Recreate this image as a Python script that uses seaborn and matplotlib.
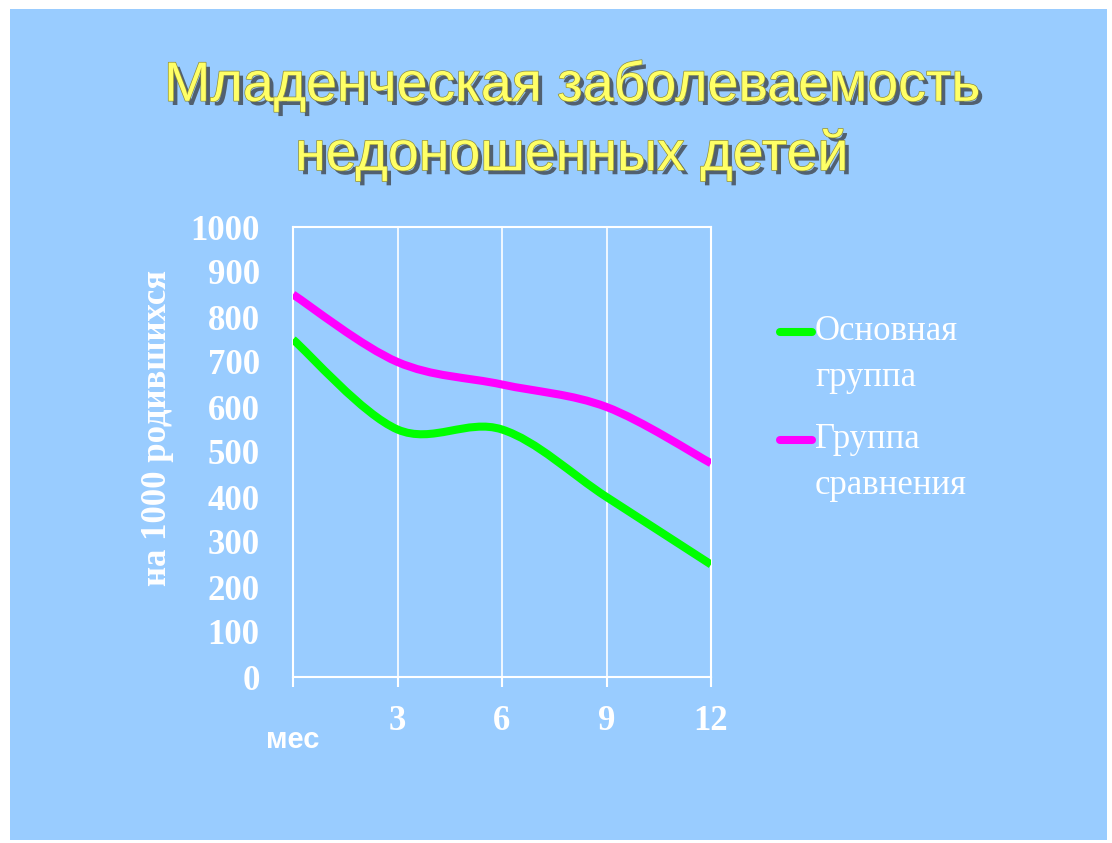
import numpy as np
import matplotlib
matplotlib.use("Agg")
import matplotlib.pyplot as plt
import matplotlib.patheffects as pe
from matplotlib.path import Path
from matplotlib.patches import PathPatch, Rectangle
from matplotlib.lines import Line2D
import seaborn as sns

# Data.
months = [0, 3, 6, 9, 12]
month_labels = ["", "3", "6", "9", "12"]
main_group = [750, 550, 550, 400, 250]
comparison_group = [850, 700, 650, 600, 475]
series_names = ["Основная\nгруппа", "Группа\nсравнения"]
series_colors = ["#00FF00", "#FF00FF"]
y_ticks = list(range(0, 1001, 100))

title = "Младенческая заболеваемость\nнедоношенных детей"
y_label = "на 1000 родившихся"
x_unit = "мес"

BG = "#99CCFF"
W, H = 1112, 843

sns.set_theme(style="white", rc={"axes.facecolor": BG, "figure.facecolor": "white"})
plt.rcParams["font.family"] = ["Liberation Serif", "DejaVu Serif"]


def smooth_path(xs, ys):
    # Excel-style smoothed line: cubic Bezier segments through the data points
    pts = np.column_stack([xs, ys]).astype(float)
    n = len(pts)
    verts = [pts[0]]
    codes = [Path.MOVETO]
    for i in range(n - 1):
        p0 = pts[max(i - 1, 0)]
        p1 = pts[i]
        p2 = pts[i + 1]
        p3 = pts[min(i + 2, n - 1)]
        verts += [p1 + (p2 - p0) / 6, p2 - (p3 - p1) / 6, p2]
        codes += [Path.CURVE4] * 3
    return Path(verts, codes)


fig = plt.figure(figsize=(W / 100, H / 100), dpi=100)
fig.patches.append(Rectangle((10 / W, 1 - 840 / H), 1097 / W, 831 / H,
                             transform=fig.transFigure, facecolor=BG, edgecolor="none", zorder=-10))

ax = fig.add_axes([293 / W, 1 - 677 / H, 418 / W, 450 / H])
ax.set_facecolor(BG)

for values, color in zip([main_group, comparison_group], series_colors):
    ax.add_patch(PathPatch(smooth_path(months, values), facecolor="none", edgecolor=color,
                           lw=5.8, capstyle="butt", joinstyle="round", zorder=3))

ax.set_xlim(0, 12)
ax.set_ylim(0, 1000)
ax.set_xticks(months)
ax.set_xticklabels(month_labels)
ax.set_yticks(y_ticks)
ax.set_yticklabels([str(v) for v in y_ticks])

for s in ax.spines.values():
    s.set_visible(True)
    s.set_color("white")
    s.set_linewidth(1.5)

ax.grid(True, axis="x", color="white", lw=1.4, alpha=0.85)
ax.grid(False, axis="y")
ax.set_axisbelow(True)

ax.tick_params(axis="x", bottom=True, length=7.5, width=1.5, color="white", pad=13,
               labelsize=25, labelcolor="white")
ax.tick_params(axis="y", left=False, length=0, pad=24, labelsize=25, labelcolor="white")
for lab in ax.get_xticklabels() + ax.get_yticklabels():
    lab.set_fontweight("bold")
    lab.set_family("Liberation Serif")

ax.set_ylabel(y_label, fontsize=25, fontweight="bold", color="white",
              family="Liberation Serif", va="center")
ax.yaxis.set_label_coords(-0.325, 0.553)

ax.text(0, -0.14, x_unit, transform=ax.get_xaxis_transform(), ha="center", va="center",
        fontsize=21, fontweight="bold", color="white", family="Liberation Sans")

# legend drawn by hand so the line sits at the first text line
for i, (name, color) in enumerate(zip(series_names, series_colors)):
    y_line = [332, 440][i]
    fig.lines.append(Line2D([780 / W, 812 / W], [1 - y_line / H] * 2, transform=fig.transFigure,
                            color=color, lw=5.8, solid_capstyle="round"))
    fig.text(815 / W, 1 - (y_line + 22.5) / H, name, ha="left", va="center", fontsize=25,
             color="white", family="Liberation Serif", linespacing=1.55)

fig.text(572 / W, 1 - 121 / H, title, ha="center", va="center", fontsize=40, color="#FFFF66",
         family="Liberation Sans", linespacing=1.38,
         path_effects=[pe.SimplePatchShadow(offset=(3, -3), shadow_rgbFace="#333333", alpha=0.7),
                       pe.Stroke(linewidth=1.0, foreground="#8f8f3a"), pe.Normal()])

fig.savefig("out.png", dpi=100)
